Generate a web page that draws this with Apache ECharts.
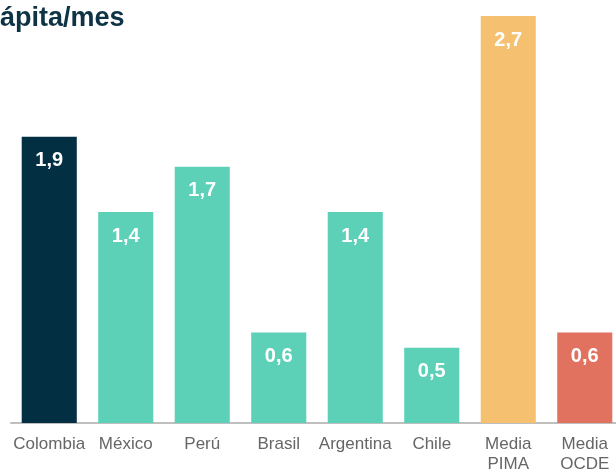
<!DOCTYPE html>
<html>
<head>
<meta charset="utf-8">
<script src="https://cdn.jsdelivr.net/npm/echarts@6/dist/echarts.min.js"></script>
<style>
  html, body { margin: 0; padding: 0; background: #ffffff; overflow: hidden; }
  #chart { width: 630px; height: 476px; }
</style>
</head>
<body>
<div id="chart"></div>
<script>
// Categories and values (consumption per capita per month)
const categories = ['Colombia', 'México', 'Perú', 'Brasil', 'Argentina', 'Chile', 'Media\nPIMA', 'Media\nOCDE'];
const values = [1.9, 1.4, 1.7, 0.6, 1.4, 0.5, 2.7, 0.6];
const barColors = ['#023042', '#5dd0b8', '#5dd0b8', '#5dd0b8', '#5dd0b8', '#5dd0b8', '#f5c170', '#e27260'];

const chart = echarts.init(document.getElementById('chart'));
chart.setOption({
  animation: false,
  title: {
    text: 'ápita/mes',
    left: -5,
    top: 0,
    textStyle: { fontFamily: 'Liberation Sans, Arial, sans-serif', fontSize: 27, fontWeight: 'bold', color: '#0d3344' }
  },
  grid: { left: 11, width: 612, top: 1, bottom: 53, containLabel: false },
  xAxis: {
    type: 'category',
    data: categories,
    axisLine: { lineStyle: { color: '#bfbfbf', width: 2 } },
    axisTick: { show: false },
    axisLabel: {
      interval: 0,
      color: '#666666',
      fontFamily: 'Liberation Sans, Arial, sans-serif',
      fontSize: 17,
      lineHeight: 20,
      margin: 11
    }
  },
  yAxis: {
    type: 'value',
    min: 0,
    max: 2.8,
    show: false,
    splitLine: { show: false }
  },
  series: [{
    type: 'bar',
    data: values.map((v, i) => ({ value: v, itemStyle: { color: barColors[i] } })),
    barCategoryGap: '28%',
    label: {
      show: true,
      position: 'insideTop',
      distance: 14,
      color: '#ffffff',
      fontFamily: 'Liberation Sans, Arial, sans-serif',
      fontSize: 20,
      fontWeight: 'bold',
      formatter: p => p.value.toFixed(1).replace('.', ',')
    }
  }]
});
</script>
</body>
</html>
